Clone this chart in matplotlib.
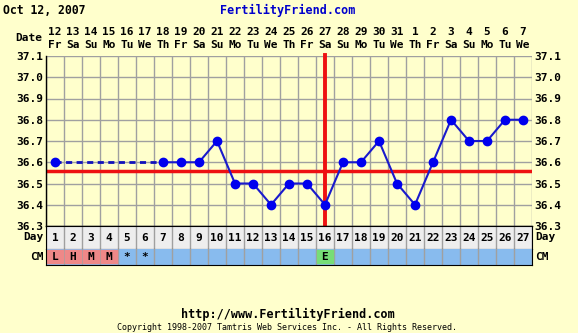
import numpy as np
import matplotlib
import matplotlib.pyplot as plt
import matplotlib.transforms as mtransforms
from matplotlib.patches import Rectangle

matplotlib.rcParams['font.family'] = ['DejaVu Sans Mono']
matplotlib.rcParams['font.weight'] = 'bold'

# 数据
days = list(range(1, 28))
dates = ['12', '13', '14', '15', '16', '17', '18', '19', '20', '21', '22', '23', '24', '25',
         '26', '27', '28', '29', '30', '31', '1', '2', '3', '4', '5', '6', '7']
weekdays = ['Fr', 'Sa', 'Su', 'Mo', 'Tu', 'We', 'Th', 'Fr', 'Sa', 'Su', 'Mo', 'Tu', 'We', 'Th',
            'Fr', 'Sa', 'Su', 'Mo', 'Tu', 'We', 'Th', 'Fr', 'Sa', 'Su', 'Mo', 'Tu', 'We']
temps = [36.6, None, None, None, None, None, 36.6, 36.6, 36.6, 36.7, 36.5, 36.5, 36.4, 36.5,
         36.5, 36.4, 36.6, 36.6, 36.7, 36.5, 36.4, 36.6, 36.8, 36.7, 36.7, 36.8, 36.8]
cm = ['L', 'H', 'M', 'M', '*', '*', '', '', '', '', '', '', '', '', '', 'E',
      '', '', '', '', '', '', '', '', '', '', '']
cm_colors = {'L': '#ee8888', 'H': '#ee8888', 'M': '#ee8888', 'E': '#77dd77'}
coverline = 36.56
ovulation_day = 16
y_ticks = [36.3, 36.4, 36.5, 36.6, 36.7, 36.8, 36.9, 37.0, 37.1]

BG = '#ffffcc'
GRID = '#a0a0a0'
W, H = 578, 333

def box(x0, y0, x1, y1):
    # 像素坐标 -> figure 坐标
    return [x0 / W, (H - y1) / H, (x1 - x0) / W, (y1 - y0) / H]

fig = plt.figure(figsize=(W / 100, H / 100), dpi=100, facecolor=BG)

# 温度图
ax = fig.add_axes(box(46, 56, 532, 226))
ax.set_facecolor(BG)
ax.set_xlim(0.5, 27.5)
ax.set_ylim(36.3, 37.1)
ax.set_xticks(np.arange(0.5, 28, 1))
ax.set_xticklabels([])
ax.set_yticks(y_ticks)
ax.set_yticklabels([f'{v:.1f}' for v in y_ticks])
ax.tick_params(axis='both', length=0, labelsize=8, pad=2,
               labelleft=True, labelright=True)
ax.grid(True, color=GRID, lw=1)
for s in ax.spines.values():
    s.set_color('black')
    s.set_linewidth(1)
ax.spines['top'].set_visible(False)
ax.spines['right'].set_visible(False)

x = np.array(days, dtype=float)
t = np.array([np.nan if v is None else v for v in temps])
known = np.where(~np.isnan(t))[0]
# 缺测段用虚线连接
for a, b in zip(known[:-1], known[1:]):
    if b - a > 1:
        ax.plot([x[a], x[b]], [t[a], t[b]], color='#1111bb', lw=2, ls=(0, (2.2, 1.6)), zorder=3)
ax.axhline(coverline, color='#ee1111', lw=2.5, zorder=2)
ax.plot([ovulation_day, ovulation_day], [36.3, 37.105], color='#ee1111', lw=2.8,
        clip_on=False, zorder=2)
ax.plot(x, t, color='#1a1acc', lw=1.5, zorder=3)
ax.plot(x, t, 'o', color='#0000ee', ms=6, zorder=4)

trans = mtransforms.blended_transform_factory(ax.transData, ax.transAxes)
for d, dt, wd in zip(days, dates, weekdays):
    ax.text(d, 1.141, dt, transform=trans, ha='center', va='center', fontsize=8)
    ax.text(d, 1.065, wd, transform=trans, ha='center', va='center', fontsize=8)
fig.text(42 / W, (H - 38) / H, 'Date', ha='right', va='center', fontsize=8)

# Day 行
axd = fig.add_axes(box(46, 226, 532, 249))
axd.set_facecolor('#eeeeee')
axd.set_xlim(0.5, 27.5)
axd.set_ylim(0, 1)
axd.set_xticks(np.arange(0.5, 28, 1))
axd.set_yticks([])
axd.tick_params(length=0, labelbottom=False)
axd.grid(True, axis='x', color=GRID, lw=1)
for s in axd.spines.values():
    s.set_color('black')
for d in days:
    axd.text(d, 0.48, str(d), ha='center', va='center', fontsize=8)

# CM 行
axc = fig.add_axes(box(46, 249, 532, 265))
axc.set_facecolor('#88bbee')
axc.set_xlim(0.5, 27.5)
axc.set_ylim(0, 1)
axc.set_xticks(np.arange(0.5, 28, 1))
axc.set_yticks([])
axc.tick_params(length=0, labelbottom=False)
axc.grid(True, axis='x', color=GRID, lw=1)
for s in axc.spines.values():
    s.set_color('black')
axc.spines['top'].set_visible(False)
for d, c in zip(days, cm):
    if c in cm_colors:
        axc.add_patch(Rectangle((d - 0.43, 0.1), 0.86, 0.82, color=cm_colors[c], zorder=2))
    if c:
        axc.text(d, 0.47, c, ha='center', va='center', fontsize=8, zorder=3)

for lbl, yp in [('Day', 237), ('CM', 257)]:
    fig.text(44 / W, (H - yp) / H, lbl, ha='right', va='center', fontsize=8)
    fig.text(535 / W, (H - yp) / H, lbl, ha='left', va='center', fontsize=8)

# 标题与页脚
fig.text(3 / W, (H - 10) / H, 'Oct 12, 2007', ha='left', va='center', fontsize=8.3)
fig.text(288 / W, (H - 10) / H, 'FertilityFriend.com', ha='center', va='center',
         fontsize=8.5, color='#0000cc')
fig.text(288 / W, (H - 314) / H, 'http://www.FertilityFriend.com', ha='center', va='center',
         fontsize=8.5)
fig.text(287 / W, (H - 328) / H,
         'Copyright 1998-2007 Tamtris Web Services Inc. - All Rights Reserved.',
         ha='center', va='center', fontsize=6, fontweight='normal')

fig.savefig('out.png', dpi=100, facecolor=BG)
